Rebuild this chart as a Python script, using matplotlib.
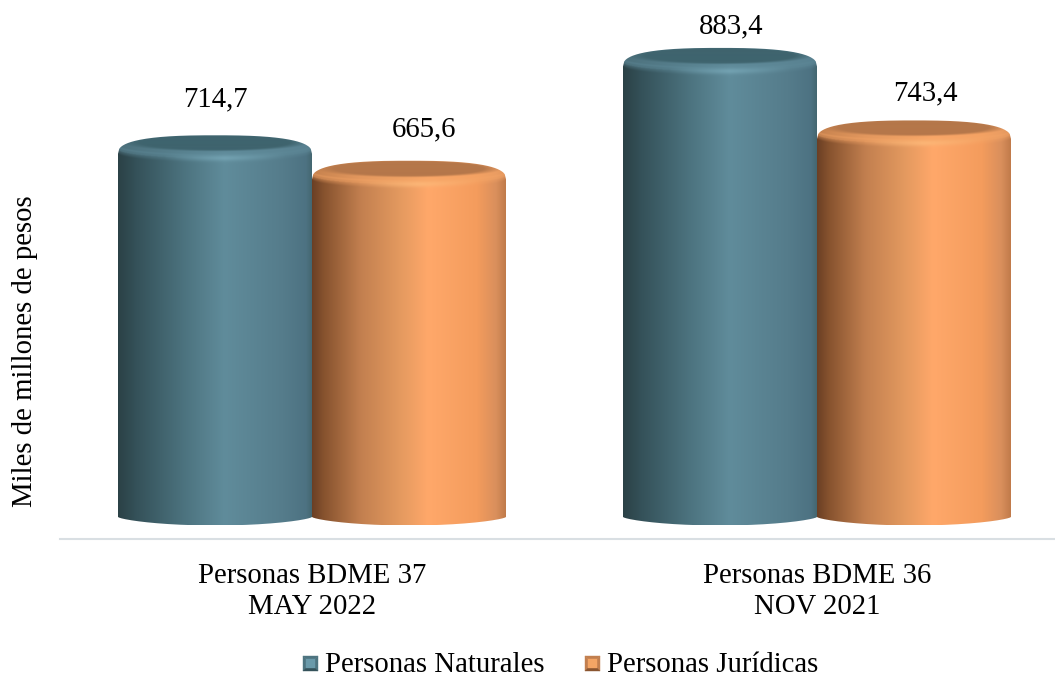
import matplotlib
matplotlib.use("Agg")
import matplotlib.pyplot as plt
import numpy as np
from matplotlib.path import Path
from matplotlib.patches import Polygon

plt.rcParams["font.family"] = ["Liberation Serif", "DejaVu Serif"]

categories = ["Personas BDME 37\nMAY 2022", "Personas BDME 36\nNOV 2021"]
naturales = [714.7, 883.4]
juridicas = [665.6, 743.4]
series_names = ["Personas Naturales", "Personas Jurídicas"]
ylabel = "Miles de millones de pesos"

# gradient stops, left to right across the cylinder
blue_stops = [(0.0, "#2b4146"), (0.1, "#35525a"), (0.35, "#4d7480"), (0.55, "#608c9b"),
              (0.85, "#557c8b"), (0.97, "#4d7282"), (1.0, "#446670")]
orange_stops = [(0.0, "#6a3f24"), (0.06, "#86522e"), (0.25, "#c27f4f"), (0.45, "#e3995f"),
                (0.6, "#ffa86a"), (0.85, "#f49c5d"), (0.95, "#d98f5c"), (1.0, "#c07a4a")]
blue_cap = "#3f646e"
orange_cap = "#b5774a"
blue_rim = "#5f8a99"
orange_rim = "#f5a566"
blue_glow = "#7fb0c0"
orange_glow = "#ffc080"

FIG_W, FIG_H = 1055, 675
AX_LEFT, AX_RIGHT, AX_BOTTOM = 60, 1055, 539
GROUP_STEP = 505        # px between category centres
FIRST_CENTER = 312      # px
BAR_W = 194 / GROUP_STEP
PX_PER_UNIT = 0.518
ZERO_Y = 517            # px row of value 0
CAP_UP = 11.5           # px from value height to the top of the silhouette
CAP_DOWN = 7            # px from value height down to where the side starts
FOOT_B = 8.5
FONT = 20.7


def to_rgb_array(color):
    return np.array(matplotlib.colors.to_rgb(color))


def gradient(stops, u):
    pos = [s[0] for s in stops]
    cols = np.array([to_rgb_array(s[1]) for s in stops])
    return np.stack([np.interp(u, pos, cols[:, i]) for i in range(3)], axis=-1)


def draw_cylinder(ax, x_left, value, stops, cap, rim, glow_col):
    width_px = BAR_W * GROUP_STEP
    height_px = value * PX_PER_UNIT
    ymin = -FOOT_B / PX_PER_UNIT
    ymax = value + CAP_UP / PX_PER_UNIT

    nx = int(width_px) * 2
    ny = int(height_px + CAP_UP + FOOT_B) * 2
    u = (np.arange(nx) + 0.5) / nx
    row = (np.arange(ny) + 0.5) / 2 - CAP_UP   # px below value height
    uu, rr = np.meshgrid(u, row)
    img = gradient(stops, uu)

    # lighter band under the top face, fades out down the body
    front = 3.5 + 9 * np.clip(1 - (2 * uu - 1) ** 2, 0, 1) ** 0.5
    band = np.clip(1 - np.abs(rr - front + 3) / 7, 0, 1)
    band = np.where(rr < front, np.maximum(band, 0.8), band)
    img = img + (to_rgb_array(rim) - img) * (band * 0.8)[..., None]
    centre = np.clip(1 - np.abs(uu - 0.55) * 3.2, 0, 1)
    glow = np.exp(-((rr - front) / 3.0) ** 2) * centre
    img = img + (to_rgb_array(glow_col) - img) * (glow * 0.6)[..., None]

    # flat top of the cylinder, soft edge
    inner = ((2 * uu - 1) / 0.92) ** 2 + ((rr + 3.0) / 8.5) ** 2
    mix = np.clip((1.1 - inner) / 0.4, 0, 1)[..., None]
    img = img + (to_rgb_array(cap) - img) * mix
    img = np.clip(img, 0, 1)

    im = ax.imshow(img, extent=[x_left, x_left + BAR_W, ymin, ymax], origin="upper",
                   aspect="auto", interpolation="bilinear", zorder=2)

    # outline: rounded shoulder on top, shallow curve at the foot
    t = np.linspace(-1, 1, 160)
    x_vals = x_left + (t + 1) / 2 * BAR_W
    top_edge = value + (-CAP_DOWN + (CAP_UP + CAP_DOWN) * (1 - np.abs(t) ** 2.6) ** (1 / 2.6)) / PX_PER_UNIT
    foot_edge = -FOOT_B / PX_PER_UNIT * (1 - np.abs(t) ** 2) ** 0.7
    xs = np.concatenate([x_vals, x_vals[::-1], x_vals[:1]])
    ys = np.concatenate([foot_edge, top_edge[::-1], foot_edge[:1]])
    im.set_clip_path(Path(np.column_stack([xs, ys])), ax.transData)


def legend_marker(fig, x, y, size, dark, mid, light):
    # small bevelled square, built in figure pixels
    to_fig = lambda px, py: (px / FIG_W, 1 - py / FIG_H)
    s = size * 0.2
    tl, tr = to_fig(x, y), to_fig(x + size, y)
    bl, br = to_fig(x, y + size), to_fig(x + size, y + size)
    itl, itr = to_fig(x + s, y + s), to_fig(x + size - s, y + s)
    ibl, ibr = to_fig(x + s, y + size - s), to_fig(x + size - s, y + size - s)
    for pts, col in [((tl, tr, itr, itl), mid), ((tl, bl, ibl, itl), mid),
                     ((tr, br, ibr, itr), mid), ((bl, br, ibr, ibl), dark),
                     ((itl, itr, ibr, ibl), light)]:
        fig.add_artist(Polygon(pts, closed=True, transform=fig.transFigure,
                               facecolor=col, edgecolor=col, linewidth=0.3))


fig = plt.figure(figsize=(FIG_W / 100, FIG_H / 100), dpi=100)
ax = fig.add_axes([AX_LEFT / FIG_W, 1 - AX_BOTTOM / FIG_H,
                   (AX_RIGHT - AX_LEFT) / FIG_W, AX_BOTTOM / FIG_H])

x_pos = np.arange(len(categories))
for i in x_pos:
    draw_cylinder(ax, i - BAR_W, naturales[i], blue_stops, blue_cap, blue_rim, blue_glow)
    draw_cylinder(ax, i, juridicas[i], orange_stops, orange_cap, orange_rim, orange_glow)

ax.set_xlim((AX_LEFT - FIRST_CENTER) / GROUP_STEP, (AX_RIGHT - FIRST_CENTER) / GROUP_STEP)
ax.set_ylim(-(AX_BOTTOM - ZERO_Y) / PX_PER_UNIT, ZERO_Y / PX_PER_UNIT)

# data labels sit by hand in the original, so offsets differ per bar
label_offsets = [[(0, 47), (15, 43)], [(11, 33), (11, 39)]]
for i in x_pos:
    for j, (vals, shift) in enumerate(zip((naturales, juridicas), (-BAR_W / 2, BAR_W / 2))):
        ax.annotate(f"{vals[i]:.1f}".replace(".", ","), (i + shift, vals[i]),
                    xytext=(label_offsets[i][j][0] * 0.72, label_offsets[i][j][1] * 0.72),
                    textcoords="offset points", ha="center", va="center",
                    fontsize=FONT, color="#000000", annotation_clip=False)

for side in ["top", "right", "left"]:
    ax.spines[side].set_visible(False)
ax.spines["bottom"].set_color("#d9dfe3")
ax.spines["bottom"].set_linewidth(1.5)
ax.set_yticks([])
ax.set_xticks(x_pos)
ax.set_xticklabels(categories, fontsize=FONT, linespacing=1.25)
ax.tick_params(axis="x", length=0, pad=17)

fig.text(25 / FIG_W, 1 - 351 / FIG_H, ylabel, rotation=90, ha="center", va="center", fontsize=FONT)

# legend
legend_marker(fig, 303, 656, 15, "#34525a", "#4d7480", "#6a9aaa")
fig.text(325 / FIG_W, 1 - 665 / FIG_H, series_names[0], ha="left", va="center", fontsize=FONT)
legend_marker(fig, 585, 656, 15, "#8a5530", "#c27f4f", "#f4a565")
fig.text(607 / FIG_W, 1 - 665 / FIG_H, series_names[1], ha="left", va="center", fontsize=FONT)

fig.savefig("out.png", dpi=100)
plt.close(fig)
